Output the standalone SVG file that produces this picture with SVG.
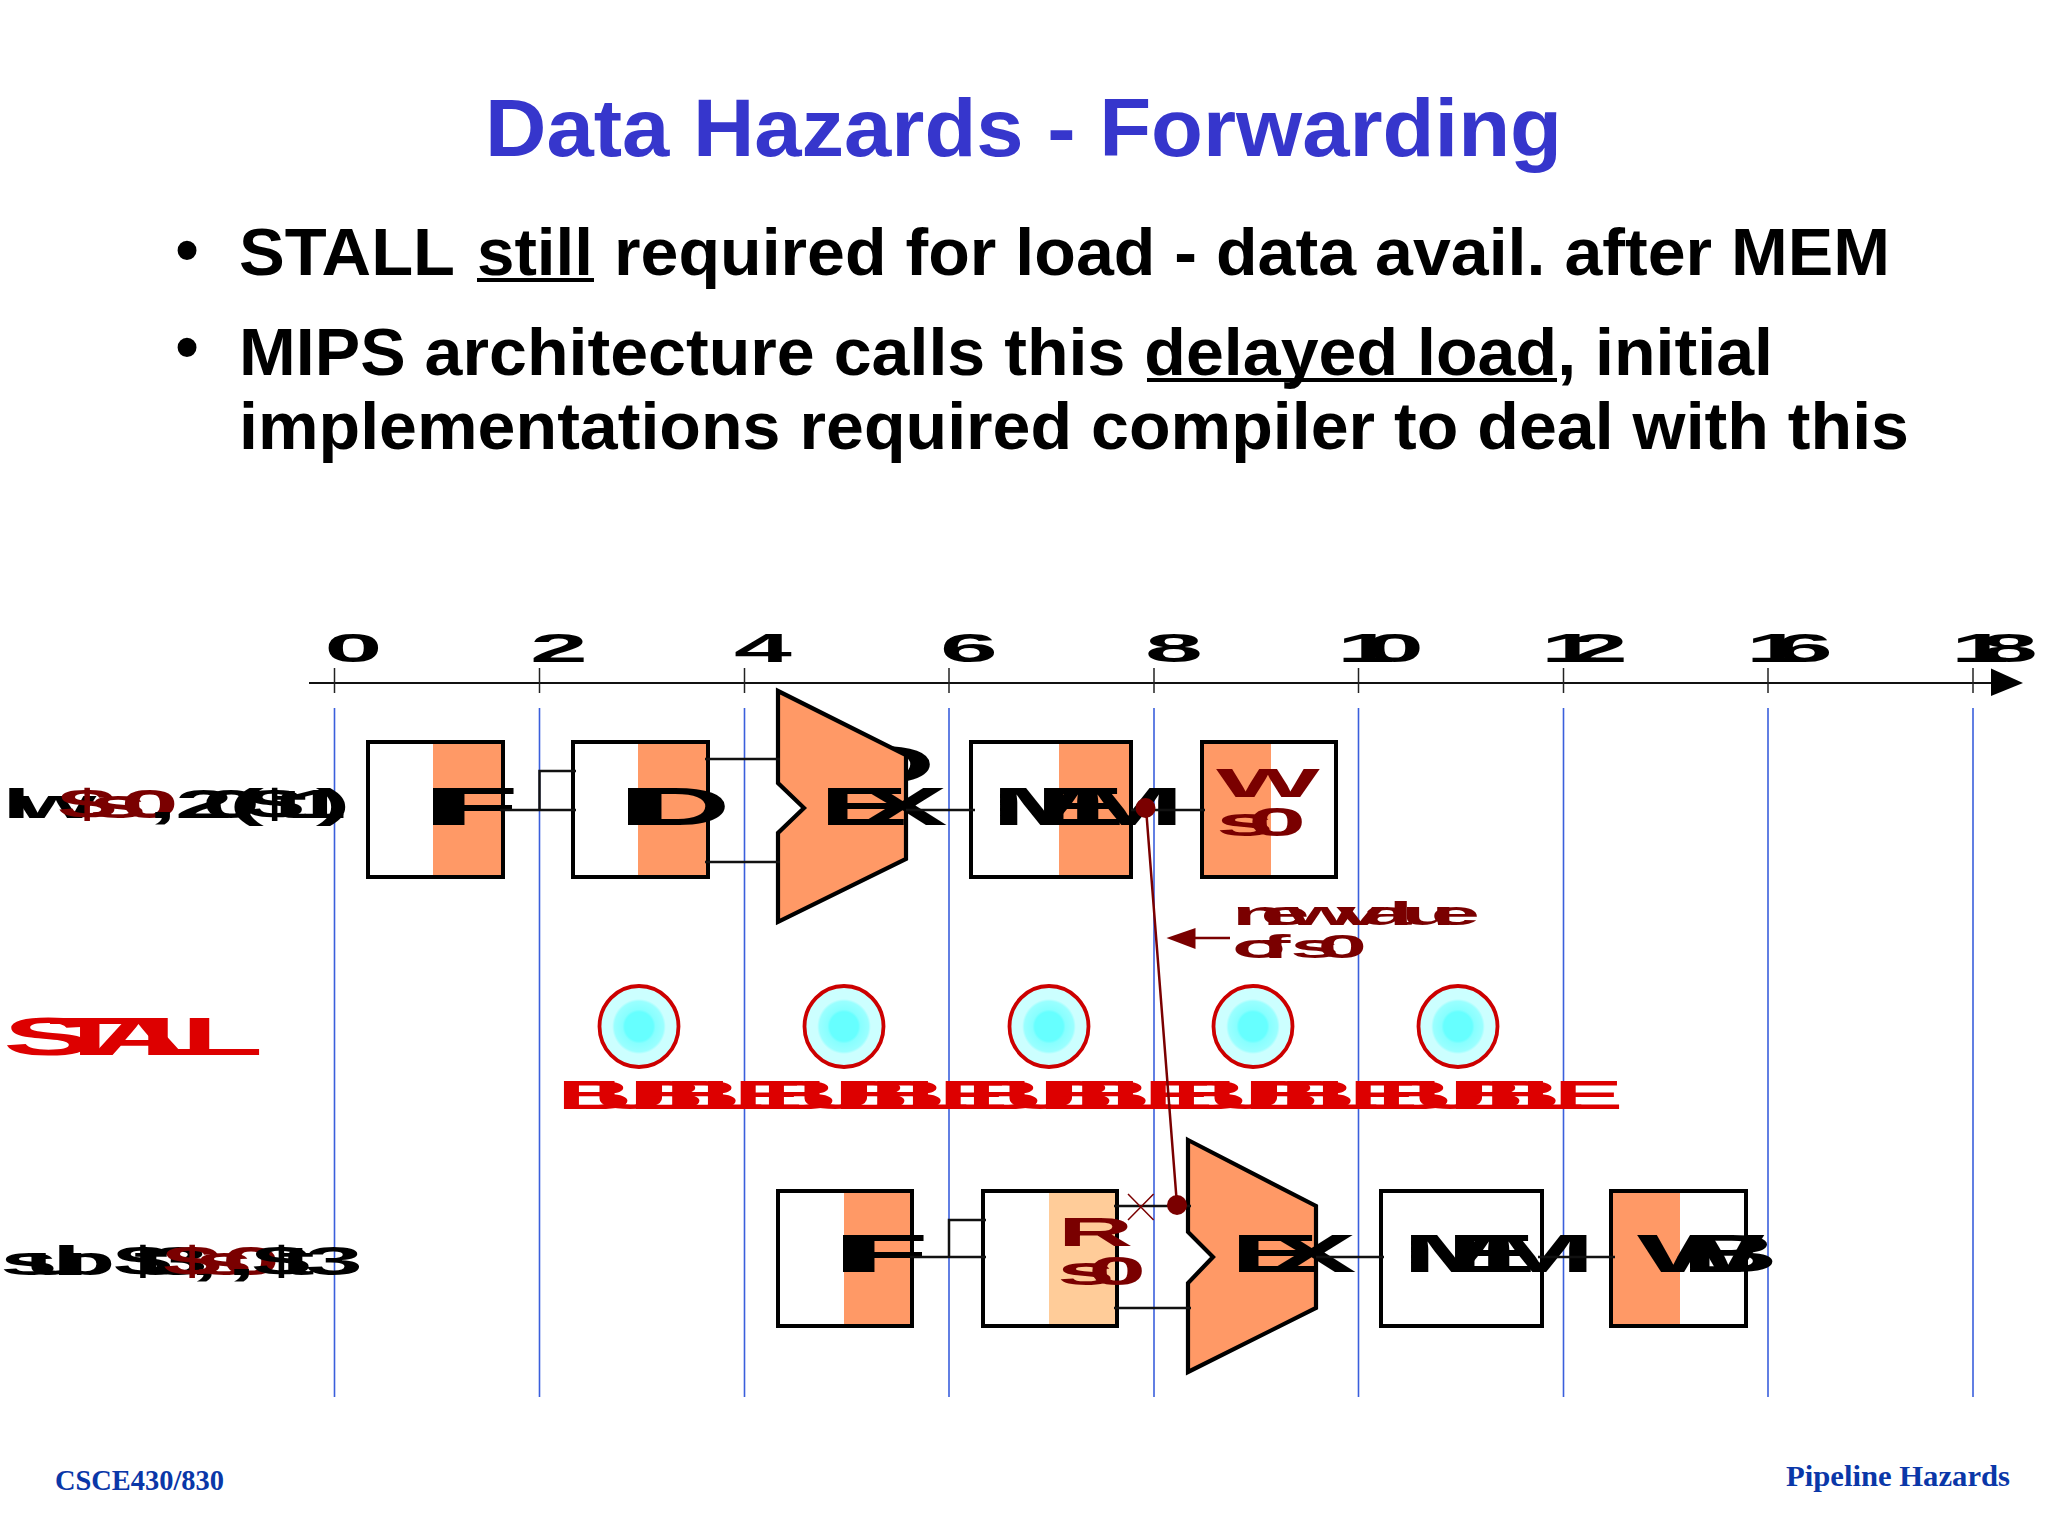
<svg xmlns="http://www.w3.org/2000/svg" width="2048" height="1536" viewBox="0 0 2048 1536">
<style>
text{font-family:"Liberation Sans",Arial,sans-serif;font-weight:700;text-decoration-skip-ink:none}
.title{font-size:82px;fill:#3636cc}
.body{font-size:66px;fill:#000}
.u{stroke:none}
.ul{stroke:#000;stroke-width:4;fill:none}
.foot{font-family:"Liberation Serif","Times New Roman",serif;font-size:29px;fill:#0a37a8}
.m{font-size:40px;fill:#000}
.l{font-size:54px;fill:#000}
.s{font-size:34px;fill:#7a0000}
.dr{fill:#7a0000}
.rd{fill:#dd0000}
.box{fill:#fff;stroke:#000;stroke-width:4}
.org{fill:#ff9966}
.lite{fill:#ffcc99}
.alu{fill:#ff9966;stroke:#000;stroke-width:4.2}
.grid line{stroke:#3a5fdc;stroke-width:1.6}
.tick line{stroke:#222;stroke-width:1.5}
.wire{fill:none;stroke:#111;stroke-width:2.5}
.fwd{fill:none;stroke:#7a0000;stroke-width:2.5}
.x{fill:none;stroke:#7a0000;stroke-width:1.5}
.bub{fill:url(#glow);stroke:#cc0000;stroke-width:3.8}
</style>
<defs>
<radialGradient id="glow">
<stop offset="0" stop-color="#66ffff"/><stop offset=".36" stop-color="#66ffff"/><stop offset=".42" stop-color="#88ffff"/><stop offset=".62" stop-color="#99ffff"/><stop offset=".68" stop-color="#ccffff"/><stop offset=".95" stop-color="#ccffff"/><stop offset="1" stop-color="#e8ffff"/>
</radialGradient>
</defs>
<rect width="2048" height="1536" fill="#fff"/>
<g id="heading">
<text class="title" x="485" y="156" textLength="1077" lengthAdjust="spacingAndGlyphs">Data Hazards - Forwarding</text>
<text class="body" x="187" y="272" text-anchor="middle">•</text>
<text class="body" x="239" y="275" textLength="216" lengthAdjust="spacingAndGlyphs">STALL</text>
<text class="body" x="477" y="275" textLength="116" lengthAdjust="spacingAndGlyphs">still</text>
<text class="body" x="614" y="275" textLength="1276" lengthAdjust="spacingAndGlyphs">required for load - data avail. after MEM</text>
<text class="body" x="187" y="369" text-anchor="middle">•</text>
<text class="body" x="239" y="375" textLength="1534" lengthAdjust="spacingAndGlyphs">MIPS architecture calls this delayed load, initial</text>
<text class="body" x="239" y="449" textLength="1670" lengthAdjust="spacingAndGlyphs">implementations required compiler to deal with this</text>
<path class="ul" d="M477 280H594M1147 380H1557"/>
</g>
<g class="grid" id="cycle-lines">
<line x1="334.5" y1="708" x2="334.5" y2="1397"/><line x1="539.5" y1="708" x2="539.5" y2="1397"/><line x1="744.5" y1="708" x2="744.5" y2="1397"/><line x1="949" y1="708" x2="949" y2="1397"/><line x1="1154" y1="708" x2="1154" y2="1397"/><line x1="1358.5" y1="708" x2="1358.5" y2="1397"/><line x1="1563.5" y1="708" x2="1563.5" y2="1397"/><line x1="1768" y1="708" x2="1768" y2="1397"/><line x1="1973" y1="708" x2="1973" y2="1397"/>
</g>
<g id="time-axis">
<line x1="309" y1="683" x2="1995" y2="683" stroke="#111" stroke-width="2.2"/>
<path d="M1991 668.5L2023 683L1991 696Z" fill="#000"/>
<g class="tick">
<line x1="334.5" y1="668" x2="334.5" y2="693"/><line x1="539.5" y1="668" x2="539.5" y2="693"/><line x1="744.5" y1="668" x2="744.5" y2="693"/><line x1="949" y1="668" x2="949" y2="693"/><line x1="1154" y1="668" x2="1154" y2="693"/><line x1="1358.5" y1="668" x2="1358.5" y2="693"/><line x1="1563.5" y1="668" x2="1563.5" y2="693"/><line x1="1768" y1="668" x2="1768" y2="693"/><line x1="1973" y1="668" x2="1973" y2="693"/>
</g>
<text class="m" transform="translate(324.5,662) scale(2.6,1)">0</text>
<text class="m" transform="translate(530,662) scale(2.6,1)">2</text>
<text class="m" transform="translate(734,662) scale(2.6,1)">4</text>
<text class="m" transform="translate(940,662) scale(2.6,1)">6</text>
<text class="m" transform="translate(1145,662) scale(2.6,1)">8</text>
<text class="m" transform="translate(1337,662) scale(2.6,1)" x="0 11.2">10</text>
<text class="m" transform="translate(1541,662) scale(2.6,1)" x="0 11.2">12</text>
<text class="m" transform="translate(1746,662) scale(2.6,1)" x="0 11.2">16</text>
<text class="m" transform="translate(1951,662) scale(2.6,1)" x="0 11.2">18</text>
</g>
<g id="instr-lw">
<text class="m" transform="translate(2,818) scale(2.6,1)"><tspan x="0 5.2 19.8">lw </tspan><tspan class="dr" x="21.5 33.5 45.7">$s0</tspan><tspan x="56.2 61.4 66.5 77 87.4 93.7 104 110.2 120.7">, 20($t1)</tspan></text>
</g>
<g id="lw-IF">
<rect class="box" x="368" y="742" width="135" height="135"/><rect class="org" x="433" y="744" width="68" height="131"/>
<text class="l" transform="translate(424,825) scale(2.5,1)" x="0 4.8">IF</text>
</g>
<g id="lw-ID">
<rect class="box" x="573" y="742" width="135" height="135"/><rect class="org" x="638" y="744" width="68" height="131"/>
<text class="l" transform="translate(619,825) scale(2.5,1)" x="0 5.6">ID</text>
</g>
<g id="lw-EX">
<text class="l" transform="translate(838,783) scale(2.5,1)">D</text>
<path class="alu" d="M778 691L906 755V859L778 922V833L804 808L778 783Z"/>
<text class="l" transform="translate(819,825) scale(2.5,1)" x="0 15.4">EX</text>
</g>
<g id="lw-MEM">
<rect class="box" x="971" y="742" width="160" height="135"/><rect class="org" x="1059" y="744" width="70" height="131"/>
<text class="l" transform="translate(991,825) scale(2.5,1)" x="0 17.6 32.4">MEM</text>
</g>
<g id="lw-WB">
<rect class="box" x="1202" y="742" width="134" height="135"/><rect class="org" x="1204" y="744" width="67" height="131"/>
<text class="m dr" transform="translate(1216,797) scale(2.75,1)">W</text>
<text class="m dr" transform="translate(1216,836) scale(2.6,1)" x="0 12.4">s0</text>
</g>
<g id="note-new-value">
<text class="s" transform="translate(1232,925) scale(2.6,1)" x="0 11 21.1 35 40 50.1 60.2 65.2 76.4">new value</text>
<text class="s" transform="translate(1232,958) scale(2.6,1)" x="0 11.2 17.4 22.4 33">of s0</text>
</g>
<g id="stall-label"><text class="l rd" transform="translate(3,1055) scale(2.5,1)" x="0 18.2 34.7 54.5 71.1">STALL</text></g>
<g id="bubble-1"><ellipse class="bub" cx="639" cy="1026.5" rx="39.5" ry="40.5"/><text class="m rd" transform="translate(557,1109) scale(2.6,1)" x="0 13.9 27.7 41.6 55.4 68">BUBBLE</text></g>
<g id="bubble-2"><ellipse class="bub" cx="844" cy="1026.5" rx="39.5" ry="40.5"/><text class="m rd" transform="translate(762,1109) scale(2.6,1)" x="0 13.9 27.7 41.6 55.4 68">BUBBLE</text></g>
<g id="bubble-3"><ellipse class="bub" cx="1049" cy="1026.5" rx="39.5" ry="40.5"/><text class="m rd" transform="translate(967,1109) scale(2.6,1)" x="0 13.9 27.7 41.6 55.4 68">BUBBLE</text></g>
<g id="bubble-4"><ellipse class="bub" cx="1253" cy="1026.5" rx="39.5" ry="40.5"/><text class="m rd" transform="translate(1172,1109) scale(2.6,1)" x="0 13.9 27.7 41.6 55.4 68">BUBBLE</text></g>
<g id="bubble-5"><ellipse class="bub" cx="1458" cy="1026.5" rx="39.5" ry="40.5"/><text class="m rd" transform="translate(1377,1109) scale(2.6,1)" x="0 13.9 27.7 41.6 55.4 68">BUBBLE</text></g>
<g id="instr-sub">
<text class="m" transform="translate(0,1275) scale(2.6,1)"><tspan x="0 9.6 20 37 43.8 51.5 57.7 73">sub $t3,</tspan><tspan class="dr" x="62.7 75 85.4">$s0</tspan><tspan x="87.3 97 107.7 117.3">,$t3</tspan></text>
</g>
<g id="sub-IF">
<rect class="box" x="778" y="1191" width="134" height="135"/><rect class="org" x="844" y="1193" width="66" height="131"/>
<text class="l" transform="translate(834,1272) scale(2.5,1)" x="0 4.8">IF</text>
</g>
<g id="sub-ID">
<rect class="box" x="983" y="1191" width="134" height="135"/><rect class="lite" x="1049" y="1193" width="66" height="131"/>
<text class="m dr" transform="translate(1058,1246) scale(2.6,1)">R</text>
<text class="m dr" transform="translate(1057,1285) scale(2.6,1)" x="0 12">s0</text>
</g>
<g id="sub-EX">
<path class="alu" d="M1188 1140L1316 1206V1308L1188 1372V1283L1213 1257L1188 1232Z"/>
<text class="l" transform="translate(1230,1272) scale(2.5,1)" x="0 14.6">EX</text>
</g>
<g id="sub-MEM">
<rect class="box" x="1381" y="1191" width="161" height="135"/>
<text class="l" transform="translate(1402,1272) scale(2.5,1)" x="0 17.6 32.4">MEM</text>
</g>
<g id="sub-WB">
<rect class="box" x="1611" y="1191" width="135" height="135"/><rect class="org" x="1613" y="1193" width="67" height="131"/>
<text class="l" transform="translate(1637,1272) scale(2.5,1)" x="0 17.6">WB</text>
</g>
<g id="connectors">
<path class="wire" d="M500 810H576M539.5 810V771H576M705 759H780M705 862H780M906 810H975M1131 810H1205"/>
<path class="wire" d="M910 1257H986M949 1257V1220H986M1114 1206H1191M1114 1308H1191M1316 1257H1384M1538 1257H1615"/>
<path class="x" d="M1128 1194L1153.6 1220M1153.6 1194L1128 1220"/>
<path class="fwd" d="M1146 808L1177 1205M1230 938H1192"/>
<path d="M1166.5 938L1195.5 928V949Z" fill="#7a0000"/>
<circle cx="1145.5" cy="808" r="10" fill="#7a0000"/>
<circle cx="1177" cy="1205" r="10" fill="#7a0000"/>
</g>
<g id="footer">
<text class="foot" x="55" y="1490" textLength="169" lengthAdjust="spacingAndGlyphs">CSCE430/830</text>
<text class="foot" x="1786" y="1486" textLength="224" lengthAdjust="spacingAndGlyphs">Pipeline Hazards</text>
</g>
</svg>
